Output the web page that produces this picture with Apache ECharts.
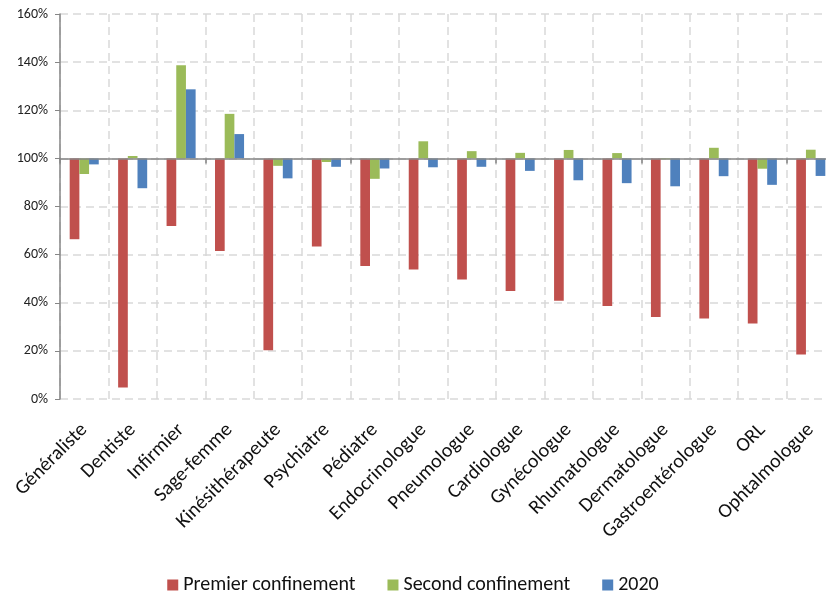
<!DOCTYPE html>
<html>
<head>
<meta charset="utf-8">
<script src="https://cdn.jsdelivr.net/npm/echarts@6/dist/echarts.min.js"></script>
<style>
  html, body { margin: 0; padding: 0; background: #fff; }
  #chart { width: 826px; height: 599px; }
</style>
</head>
<body>
<div id="chart"></div>
<script>
const categories = [
  'Généraliste', 'Dentiste', 'Infirmier', 'Sage-femme', 'Kinésithérapeute',
  'Psychiatre', 'Pédiatre', 'Endocrinologue', 'Pneumologue', 'Cardiologue',
  'Gynécologue', 'Rhumatologue', 'Dermatologue', 'Gastroentérologue', 'ORL',
  'Ophtalmologue'
];
// valeurs en % (base 100)
const premier = [66.4, 4.8, 71.9, 61.5, 20.3, 63.4, 55.3, 53.8, 49.7, 44.9, 40.8, 38.7, 34.1, 33.5, 31.4, 18.5];
const second = [93.5, 101, 138.7, 118.5, 96.9, 98.5, 91.5, 107.1, 103.0, 102.3, 103.5, 102.2, 99.6, 104.4, 95.7, 103.6];
const annee2020 = [97.5, 87.6, 128.7, 110.1, 91.7, 96.5, 95.8, 96.3, 96.5, 94.8, 90.9, 89.7, 88.4, 92.6, 89.0, 92.7];
const yTicks = [0, 20, 40, 60, 80, 100, 120, 140, 160];

const BASE = 100;
const FONT = 'Carlito, Calibri, Lato, sans-serif';
const shift = (arr) => arr.map((v) => +(v - BASE).toFixed(2));

const chart = echarts.init(document.getElementById('chart'));

const option = {
  animation: false,
  textStyle: { fontFamily: FONT },
  grid: {
    left: 60,
    top: 14,
    width: 775,
    height: 385,
    outerBoundsMode: 'none',
  },
  legend: {
    bottom: -1,
    left: 'center',
    itemWidth: 11,
    itemHeight: 11,
    itemGap: 32,
    icon: 'rect',
    textStyle: { fontFamily: FONT, fontSize: 20, color: '#111' },
    data: ['Premier confinement', 'Second confinement', '2020'],
  },
  xAxis: [
    {
      // ligne des 100 %
      type: 'category',
      data: categories,
      position: 'bottom',
      axisLine: { onZero: true, lineStyle: { color: '#868686', width: 1.5 } },
      axisTick: { show: true, length: 5, lineStyle: { color: '#868686', width: 1.5 } },
      axisLabel: { show: false },
      splitLine: { show: false },
      z: 5,
    },
    {
      type: 'category',
      data: categories,
      position: 'bottom',
      axisLine: { show: false, onZero: false },
      axisTick: { show: false },
      axisLabel: {
        rotate: 45,
        margin: 28,
        interval: 0,
        fontFamily: FONT,
        fontSize: 20,
        color: '#111',
      },
      splitLine: {
        show: true,
        lineStyle: { color: '#d9d9d9', width: 1.5, type: [8, 5] },
      },
    },
  ],
  yAxis: {
    type: 'value',
    min: yTicks[0] - BASE,
    max: yTicks[yTicks.length - 1] - BASE,
    interval: 20,
    axisLine: { show: true, lineStyle: { color: '#868686', width: 1.5 } },
    axisTick: { show: true, length: 5, lineStyle: { color: '#868686' } },
    axisLabel: {
      formatter: (v) => (v + BASE) + '%',
      fontFamily: FONT,
      fontSize: 14,
      color: '#222',
      margin: 12,
    },
    splitLine: {
      show: true,
      lineStyle: { color: '#d9d9d9', width: 1.5, type: [8, 5] },
    },
  },
  series: [
    {
      name: 'Premier confinement',
      type: 'bar',
      xAxisIndex: 0,
      data: shift(premier),
      itemStyle: { color: '#C0504D' },
      barGap: '0%',
      barCategoryGap: '40%',
    },
    {
      name: 'Second confinement',
      type: 'bar',
      xAxisIndex: 0,
      data: shift(second),
      itemStyle: { color: '#9BBB59' },
      barGap: '0%',
      barCategoryGap: '40%',
    },
    {
      name: '2020',
      type: 'bar',
      xAxisIndex: 0,
      data: shift(annee2020),
      itemStyle: { color: '#4F81BD' },
      barGap: '0%',
      barCategoryGap: '40%',
    },
  ],
};

chart.setOption(option);
</script>
</body>
</html>
